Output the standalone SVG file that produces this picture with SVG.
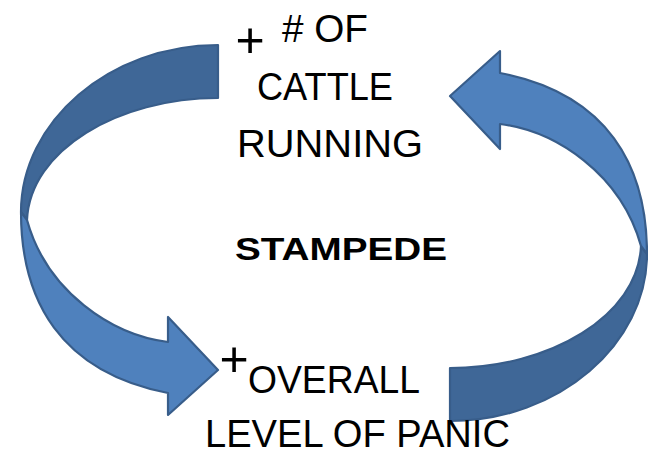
<svg xmlns="http://www.w3.org/2000/svg" width="648" height="455" viewBox="0 0 648 455">
  <style>
    .back { fill: #3F6797; stroke: #385D8A; stroke-width: 2.2; stroke-linejoin: round; }
    .front { fill: #4F81BD; stroke: #385D8A; stroke-width: 2.2; stroke-linejoin: round; }
    .lbl { font-family: "Liberation Sans", Arial, sans-serif; font-size: 39px; fill: #000; }
    .plus { font-family: "Liberation Sans", Arial, sans-serif; font-size: 50px; fill: #000; text-anchor: middle; }
    .title { font-family: "Liberation Sans", Arial, sans-serif; font-size: 32px; font-weight: bold; fill: #000; }
  </style>
  <defs>
    <!-- curved arrow: back band (tail) and front band ending in the head -->
    <g id="curved-arrow">
      <path class="back" d="M218,45 C109,45 21,122 21,212 L27,220 C30,150 118,98 218,98 Z"/>
      <path class="front" d="M21,212 C21,300 60,372 168,393 L168,415 L218,370 L168,317 L168,342 C112,335 47,292 27,220 Z"/>
    </g>
  </defs>

  <g id="connectors">
    <use id="arrow-cattle-to-panic" href="#curved-arrow"/>
    <use id="arrow-panic-to-cattle" href="#curved-arrow" transform="rotate(180 334 233)"/>
  </g>

  <g id="node-cattle">
    <text class="plus" x="250" y="57">+</text>
    <text class="lbl" x="282" y="42" textLength="86" lengthAdjust="spacingAndGlyphs"># OF</text>
    <text class="lbl" x="257" y="100" textLength="136" lengthAdjust="spacingAndGlyphs">CATTLE</text>
    <text class="lbl" x="237" y="157" textLength="186" lengthAdjust="spacingAndGlyphs">RUNNING</text>
  </g>

  <g id="node-stampede">
    <text class="title" x="235" y="260" textLength="212" lengthAdjust="spacingAndGlyphs">STAMPEDE</text>
  </g>

  <g id="node-panic">
    <text class="plus" x="234" y="376">+</text>
    <text class="lbl" x="248" y="393" textLength="172" lengthAdjust="spacingAndGlyphs">OVERALL</text>
    <text class="lbl" x="205" y="447" textLength="305" lengthAdjust="spacingAndGlyphs">LEVEL OF PANIC</text>
  </g>
</svg>
